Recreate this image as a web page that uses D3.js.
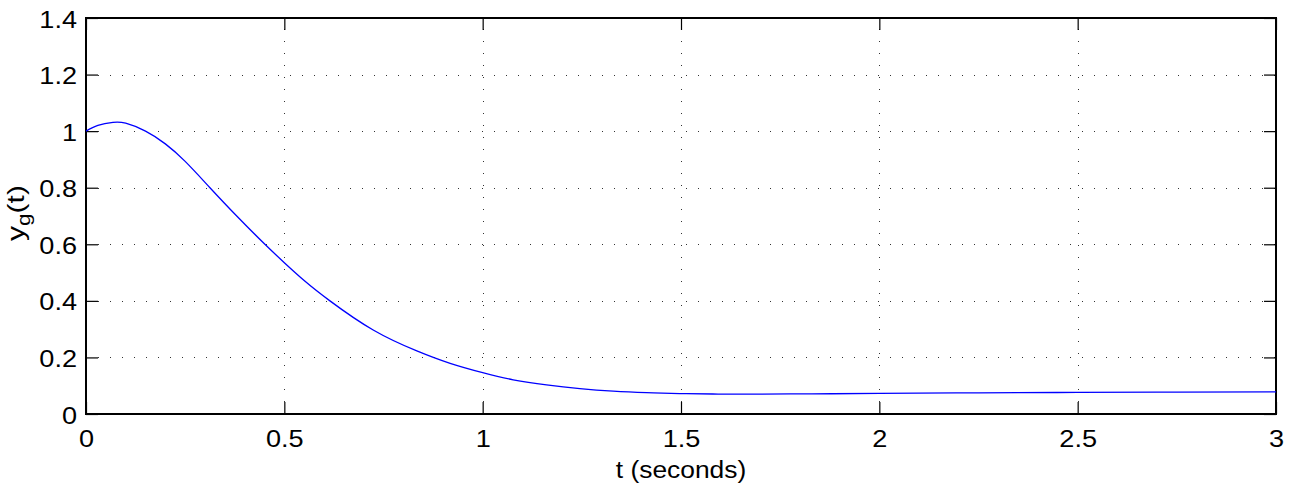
<!DOCTYPE html>
<html>
<head>
<meta charset="utf-8">
<script src="https://cdn.jsdelivr.net/npm/d3@7"></script>
<style>
  html, body { margin: 0; padding: 0; background: #fff; }
  svg { display: block; }
  text { font-family: "Liberation Sans", Arial, sans-serif; fill: #000; }
</style>
</head>
<body>
<svg id="chart" width="1297" height="488"></svg>
<script>
const tValues = [0, 0.03, 0.068, 0.1, 0.15, 0.2, 0.25, 0.3125, 0.38, 0.451, 0.5, 0.55, 0.615, 0.724, 0.834, 0.918, 1.0, 1.077, 1.161, 1.245, 1.329, 1.413, 1.497, 1.58, 1.665, 1.83, 2.0, 2.25, 2.5, 2.75, 3.0];
const yValues = [1.0, 1.02, 1.031, 1.028, 1.0, 0.955, 0.893, 0.8, 0.70, 0.6, 0.535, 0.472, 0.4, 0.297, 0.223, 0.179, 0.146, 0.121, 0.103, 0.090, 0.081, 0.0755, 0.0722, 0.0707, 0.0703, 0.0712, 0.0728, 0.0748, 0.0763, 0.0773, 0.078];
const xTicks = [0, 0.5, 1, 1.5, 2, 2.5, 3];
const xTickLabels = ["0", "0.5", "1", "1.5", "2", "2.5", "3"];
const yTicks = [0, 0.2, 0.4, 0.6, 0.8, 1, 1.2, 1.4];
const yTickLabels = ["0", "0.2", "0.4", "0.6", "0.8", "1", "1.2", "1.4"];
const xLabel = "t (seconds)";

const svg = d3.select("#chart");
const L = 86, R = 1276, T = 18, B = 414;
const x = d3.scaleLinear().domain([0, 3]).range([L, R]);
const y = d3.scaleLinear().domain([0, 1.4]).range([B, T]);
const fs = 24;
const sx = 1.13;

// grid
const grid = svg.append("g").attr("stroke", "#333").attr("stroke-width", 1).attr("stroke-dasharray", "1,11");
xTicks.slice(1, -1).forEach(v => {
  grid.append("line").attr("x1", Math.round(x(v)) + 0.5).attr("x2", Math.round(x(v)) + 0.5)
    .attr("y1", B).attr("y2", T);
});
yTicks.slice(1, -1).forEach(v => {
  grid.append("line").attr("y1", Math.round(y(v)) + 0.5).attr("y2", Math.round(y(v)) + 0.5)
    .attr("x1", L).attr("x2", R);
});

// axes with inward ticks
const tl = 12;
const fmtX = (d, i) => xTickLabels[i];
const fmtY = (d, i) => yTickLabels[i];
const gB = svg.append("g").attr("transform", `translate(0,${B})`)
  .call(d3.axisBottom(x).tickValues(xTicks).tickFormat(fmtX).tickSizeInner(-tl).tickSizeOuter(0).tickPadding(16));
const gT = svg.append("g").attr("transform", `translate(0,${T})`)
  .call(d3.axisTop(x).tickValues(xTicks).tickFormat("").tickSizeInner(-tl).tickSizeOuter(0));
const gL = svg.append("g").attr("transform", `translate(${L},0)`)
  .call(d3.axisLeft(y).tickValues(yTicks).tickFormat(fmtY).tickSizeInner(-tl).tickSizeOuter(0).tickPadding(9));
const gR = svg.append("g").attr("transform", `translate(${R},0)`)
  .call(d3.axisRight(y).tickValues(yTicks).tickFormat("").tickSizeInner(-tl).tickSizeOuter(0));
[gB, gT, gL, gR].forEach(g => {
  g.select(".domain").remove();
  g.selectAll(".tick line").attr("stroke", "#000").attr("stroke-width", 1.2);
  g.selectAll("text").style("font-size", fs + "px").style("font-family", '"Liberation Sans", Arial, sans-serif').attr("fill", "#000");
});
gB.selectAll("text").attr("dy", "0.71em").attr("transform", `scale(${sx},1)`);
gL.selectAll("text").each(function() {
  const t = d3.select(this);
  const tx = +t.attr("x");
  t.attr("x", 0).attr("dy", "0.38em").attr("transform", `translate(${tx},0) scale(${sx},1)`);
});

// frame
svg.append("rect").attr("x", L).attr("y", T).attr("width", R - L).attr("height", B - T)
  .attr("fill", "none").attr("stroke", "#000").attr("stroke-width", 2);

// curve
const data = tValues.map((t, i) => [t, yValues[i]]);
svg.append("path").datum(data)
  .attr("fill", "none").attr("stroke", "#0000ff").attr("stroke-width", 1.3)
  .attr("d", d3.line().x(d => x(d[0])).y(d => y(d[1])).curve(d3.curveNatural));

// labels
svg.append("text").attr("transform", `translate(${(L + R) / 2},478) scale(1.1,1)`).attr("text-anchor", "middle")
  .style("font-size", fs + "px").text(xLabel);
const yl = svg.append("text").attr("transform", `translate(24,213) rotate(-90) scale(1.25,1)`)
  .attr("text-anchor", "middle").style("font-size", "24px");
yl.append("tspan").text("y");
yl.append("tspan").attr("dy", 6).style("font-size", "18px").text("g");
yl.append("tspan").attr("dy", -6).text("(t)");
</script>
</body>
</html>
